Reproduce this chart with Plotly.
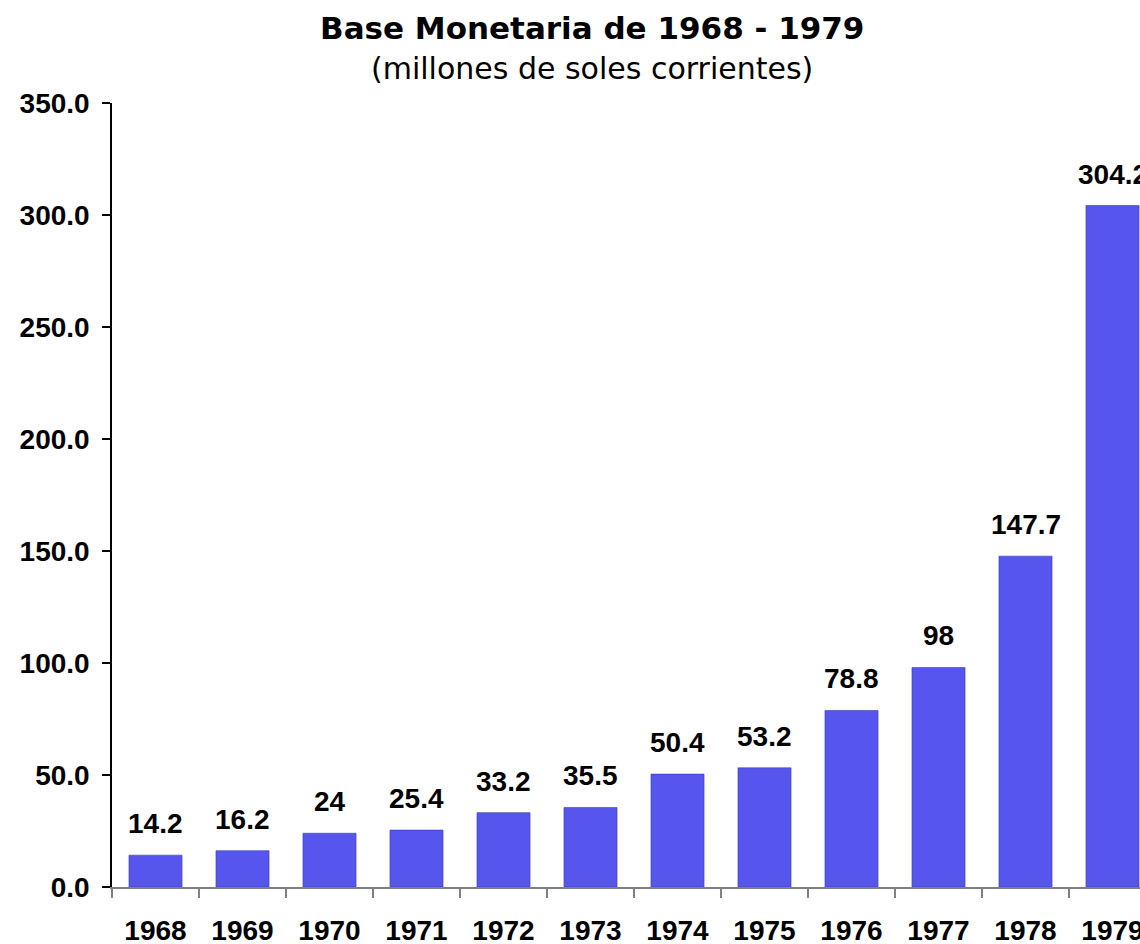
import plotly.graph_objects as go

years = ["1968", "1969", "1970", "1971", "1972", "1973", "1974", "1975", "1976", "1977", "1978", "1979"]
values = [14.2, 16.2, 24, 25.4, 33.2, 35.5, 50.4, 53.2, 78.8, 98, 147.7, 304.2]
labels = ["14.2", "16.2", "24", "25.4", "33.2", "35.5", "50.4", "53.2", "78.8", "98", "147.7", "304.2"]

title = "Base Monetaria de 1968 - 1979"
subtitle = "(millones de soles corrientes)"

fig = go.Figure()
fig.add_trace(go.Bar(
    x=years, y=values, width=0.61,
    marker=dict(color="#5656EE", line=dict(color="#3a3ab8", width=0.6)),
    hoverinfo="x+y",
))

for i, (v, lab) in enumerate(zip(values, labels)):
    fig.add_annotation(x=i, y=v, text="<b>" + lab + "</b>", showarrow=False, yanchor="bottom",
                       yshift=14, font=dict(family="Liberation Sans, Arial", size=28, color="black"))

fig.add_annotation(xref="paper", yref="paper", x=0.467, y=1, yshift=75, text="<b>" + title + "</b>",
                   showarrow=False, xanchor="center", yanchor="middle",
                   font=dict(family="DejaVu Sans", size=31, color="black"))
fig.add_annotation(xref="paper", yref="paper", x=0.467, y=1, yshift=35, text=subtitle,
                   showarrow=False, xanchor="center", yanchor="middle",
                   font=dict(family="DejaVu Sans", size=30, color="black"))

fig.update_layout(
    width=1140, height=944,
    margin=dict(l=112, r=0, t=103, b=57),
    paper_bgcolor="white", plot_bgcolor="white",
    showlegend=False,
    font=dict(family="Liberation Sans, Arial", size=27, color="black"),
    xaxis=dict(
        type="category", range=[-0.5, 11.316], tickson="boundaries",
        ticks="outside", ticklen=9, tickcolor="#808080", tickwidth=1.5,
        showline=True, linecolor="#808080", linewidth=1.5,
        showgrid=False, zeroline=False, automargin=False,
        tickfont=dict(family="Liberation Sans, Arial", size=28, color="black", weight="bold"),
        ticklabelstandoff=18,
    ),
    yaxis=dict(
        range=[0, 350], dtick=50, tickformat=".1f",
        ticks="outside", ticklen=8, tickcolor="black", tickwidth=1.5,
        showline=True, linecolor="black", linewidth=1.5,
        showgrid=False, zeroline=False, automargin=False,
        tickfont=dict(family="Liberation Sans, Arial", size=28, color="black", weight="bold"),
        ticklabelstandoff=7,
    ),
)

fig.write_html("out.html", config={"displayModeBar": False},
               post_script="document.body.style.margin='0';document.body.style.overflow='hidden';")
